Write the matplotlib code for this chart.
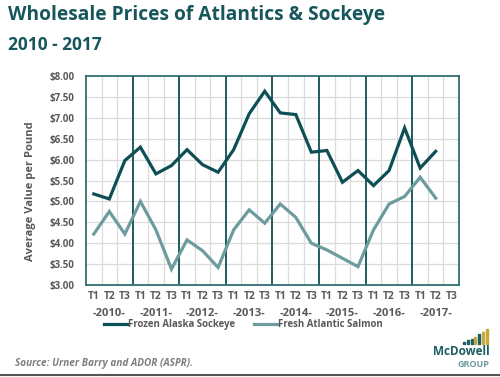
import matplotlib
matplotlib.use("Agg")
import matplotlib.pyplot as plt
from matplotlib.patches import Rectangle
from matplotlib.lines import Line2D
import numpy as np

years = ["2010", "2011", "2012", "2013", "2014", "2015", "2016", "2017"]
terms = ["T1", "T2", "T3"]
sockeye = [5.18, 5.06, 5.98, 6.30, 5.66, 5.86, 6.24, 5.88, 5.70, 6.24, 7.10, 7.64,
           7.12, 7.08, 6.18, 6.22, 5.46, 5.74, 5.38, 5.74, 6.76, 5.80, 6.20, np.nan]
atlantic = [4.22, 4.76, 4.22, 5.00, 4.32, 3.38, 4.08, 3.82, 3.42, 4.32, 4.80, 4.48,
            4.94, 4.62, 4.00, 3.84, 3.64, 3.44, 4.32, 4.94, 5.12, 5.58, 5.08, np.nan]
yticks = [3.0, 3.5, 4.0, 4.5, 5.0, 5.5, 6.0, 6.5, 7.0, 7.5, 8.0]

teal = "#0e4f55"
light = "#6d9c9e"
gray = "#595959"
font = "Open Sans"

fig = plt.figure(figsize=(5.0, 3.77), dpi=100)
ax = fig.add_axes([0.172, 0.244, 0.746, 0.554])
n = len(years) * len(terms)
x = np.arange(n)
ax.set_xlim(-0.5, n - 0.5)
ax.set_ylim(3.0, 8.0)

for i in range(1, n):
    if i % 3 == 0:
        ax.axvline(i - 0.5, color=teal, lw=1.3, zorder=2)
    else:
        ax.axvline(i - 0.5, color="#dcdcdc", lw=0.9, zorder=1)
for v in yticks[1:-1]:
    ax.axhline(v, color="#dcdcdc", lw=0.9, zorder=1)

ax.plot(x, sockeye, color=teal, lw=2.3, zorder=3, solid_joinstyle="miter")
ax.plot(x, atlantic, color=light, lw=2.3, zorder=3, solid_joinstyle="miter")

for s in ax.spines.values():
    s.set_color("#2e6e72")
    s.set_linewidth(1.3)

ax.set_yticks(yticks)
ax.set_yticklabels([f"${v:.2f}" for v in yticks], fontsize=7, color=gray,
                   fontweight="bold", family=font)
ax.set_xticks(x)
ax.set_xticklabels(terms * len(years), fontsize=7.3, color=gray, fontweight="bold",
                   family=font)
ax.tick_params(axis="y", length=0, pad=8)
ax.tick_params(axis="x", length=0, pad=4)
ax.set_ylabel("Average Value per Pound", fontsize=8, color=gray, fontweight="bold",
              family=font)
ax.yaxis.set_label_coords(-0.135, 0.45)

for k, yr in enumerate(years):
    ax.text(3 * k + 1, -0.135, f"-{yr}-", transform=ax.get_xaxis_transform(),
            ha="center", va="center", fontsize=8, color=gray, fontweight="bold",
            family=font)

handles = [Line2D([0], [0], color=teal, lw=2.3), Line2D([0], [0], color=light, lw=2.3)]
leg = fig.legend(handles, ["Frozen Alaska Sockeye", "Fresh Atlantic Salmon"],
                 loc="center", bbox_to_anchor=(0.487, 0.138), ncol=2, frameon=False,
                 handlelength=2.4, handletextpad=0.1, columnspacing=2.0,
                 borderpad=0.1, prop={"family": font, "weight": "bold", "size": 6.9})
for t in leg.get_texts():
    t.set_color(gray)

fig.text(0.016, 0.96, "Wholesale Prices of Atlantics & Sockeye", fontsize=13.8,
         fontweight="bold", color="#17575c", family=font, va="center", ha="left")
fig.text(0.016, 0.88, "2010 - 2017", fontsize=12.5, fontweight="bold",
         color="#17575c", family=font, va="center", ha="left")
fig.text(0.03, 0.035, "Source: Urner Barry and ADOR (ASPR).", fontsize=7.2,
         style="italic", fontweight="bold", color="#7f7f7f", family=font,
         va="center", ha="left")

# logo
fig.text(0.922, 0.068, "McDowell", fontsize=8.5, fontweight="bold", color="#1c5f66",
         family=font, ha="center", va="center")
fig.text(0.946, 0.034, "GROUP", fontsize=6.5, fontweight="bold", color="#6d9c9e",
         family=font, ha="center", va="center")
bar_h = [0.005, 0.009, 0.014, 0.019, 0.025, 0.031, 0.038]
bar_c = ["#1c5f66", "#1c5f66", "#1c5f66", "#c8a83a", "#1c5f66", "#c8a83a", "#c8a83a"]
for i, (h, c) in enumerate(zip(bar_h, bar_c)):
    fig.patches.append(Rectangle((0.926 + i * 0.0075, 0.088), 0.0042, h,
                                 transform=fig.transFigure, color=c))
fig.add_artist(Line2D([0, 1], [0.006, 0.006], transform=fig.transFigure,
                      color="#555555", lw=1.5))

fig.savefig("out.png", dpi=100, facecolor="white")
